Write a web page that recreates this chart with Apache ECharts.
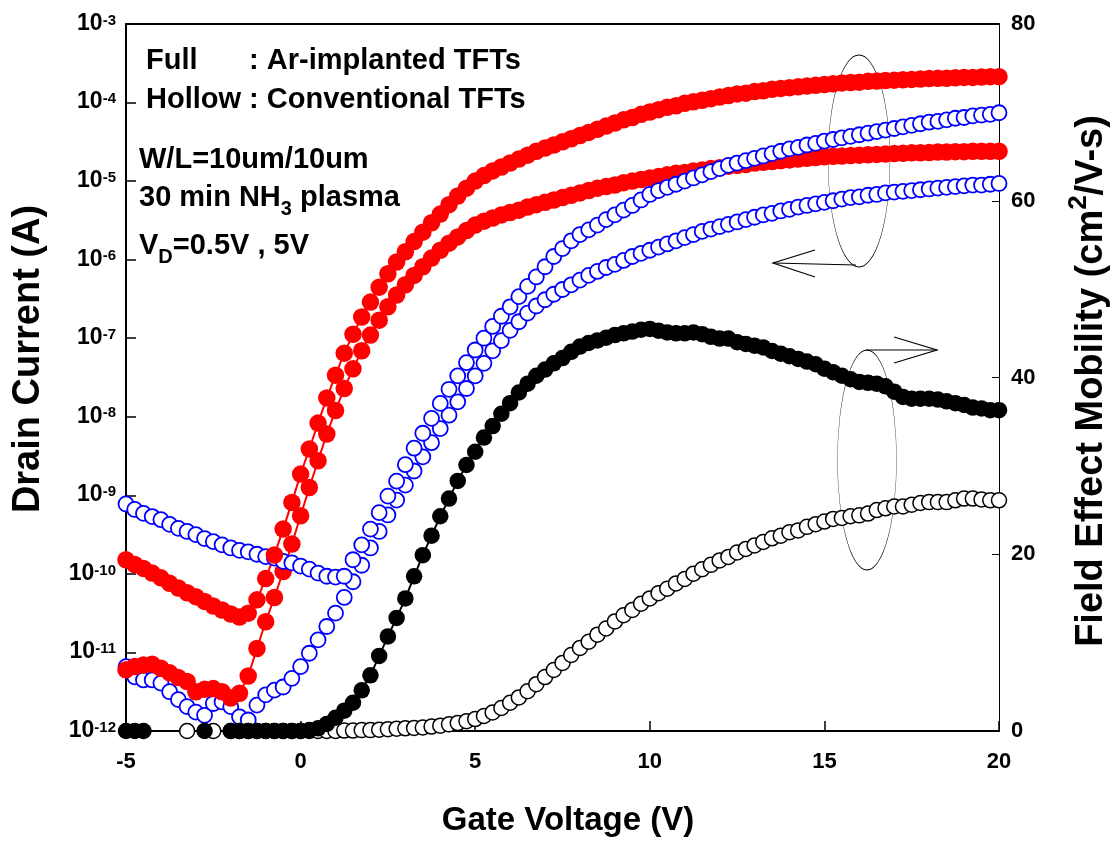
<!DOCTYPE html>
<html><head><meta charset="utf-8">
<script src="https://cdn.jsdelivr.net/npm/echarts@6/dist/echarts.min.js"></script>
<style>html,body{margin:0;padding:0;background:#fff}#c{width:1119px;height:846px}</style>
</head><body><div id="c"></div>
<script>
// Gate voltage sweep (V)
const gateVoltage = [
 -5,-4.75,-4.5,-4.25, -4,-3.75,-3.5,-3.25, -3,-2.75,-2.5,-2.25, -2,-1.75,-1.5,-1.25,
 -1,-0.75,-0.5,-0.25, 0,0.25,0.5,0.75, 1,1.25,1.5,1.75, 2,2.25,2.5,2.75,
 3,3.25,3.5,3.75, 4,4.25,4.5,4.75, 5,5.25,5.5,5.75, 6,6.25,6.5,6.75,
 7,7.25,7.5,7.75, 8,8.25,8.5,8.75, 9,9.25,9.5,9.75, 10,10.25,10.5,10.75,
 11,11.25,11.5,11.75, 12,12.25,12.5,12.75, 13,13.25,13.5,13.75, 14,14.25,14.5,14.75,
 15,15.25,15.5,15.75, 16,16.25,16.5,16.75, 17,17.25,17.5,17.75, 18,18.25,18.5,18.75,
 19,19.25,19.5,19.75, 20
];
// Drain current, read as decade exponents (log10 of A) off the left log axis
const idArVd5Exp = [
 -9.82,-9.88,-9.93,-9.99, -10.05,-10.12,-10.18,-10.24, -10.29,-10.35,-10.41,-10.46, -10.51,-10.55,-10.50,-10.33,
 -10.06,-9.76,-9.43,-9.09, -8.73,-8.41,-8.08,-7.76, -7.47,-7.19,-6.95,-6.73, -6.54,-6.35,-6.18,-6.03,
 -5.90,-5.77,-5.65,-5.53, -5.42,-5.30,-5.19,-5.09, -5.00,-4.93,-4.87,-4.82, -4.77,-4.72,-4.67,-4.62,
 -4.58,-4.54,-4.50,-4.46, -4.42,-4.38,-4.34,-4.30, -4.26,-4.22,-4.19,-4.15, -4.12,-4.09,-4.06,-4.04,
 -4.01,-3.99,-3.97,-3.95, -3.93,-3.91,-3.89,-3.88, -3.86,-3.85,-3.83,-3.82, -3.81,-3.80,-3.79,-3.78,
 -3.77,-3.76,-3.75,-3.745, -3.74,-3.73,-3.725,-3.72, -3.715,-3.71,-3.705,-3.70, -3.695,-3.69,-3.69,-3.685,
 -3.68,-3.68,-3.675,-3.67, -3.67
];
const idArVd05Exp = [
 -11.22,-11.18,-11.16,-11.15, -11.20,-11.26,-11.32,-11.37, -11.50,-11.47,-11.46,-11.50, -11.58,-11.52,-11.30,-10.95,
 -10.61,-10.30,-9.97,-9.62, -9.26,-8.90,-8.56,-8.22, -7.92,-7.64,-7.39,-7.16, -6.96,-6.77,-6.60,-6.45,
 -6.32,-6.20,-6.09,-5.98, -5.88,-5.79,-5.71,-5.63, -5.56,-5.51,-5.47,-5.43, -5.40,-5.37,-5.33,-5.30,
 -5.27,-5.24,-5.21,-5.18, -5.15,-5.12,-5.09,-5.07, -5.05,-5.02,-5.00,-4.98, -4.96,-4.94,-4.92,-4.90,
 -4.89,-4.87,-4.86,-4.84, -4.83,-4.81,-4.80,-4.79, -4.77,-4.76,-4.75,-4.74, -4.73,-4.72,-4.71,-4.70,
 -4.69,-4.685,-4.68,-4.675, -4.67,-4.665,-4.66,-4.655, -4.65,-4.645,-4.64,-4.64, -4.635,-4.63,-4.63,-4.625,
 -4.625,-4.62,-4.62,-4.62, -4.62
];
const idConvVd5Exp = [
 -9.11,-9.18,-9.23,-9.27, -9.31,-9.37,-9.42,-9.46, -9.50,-9.55,-9.59,-9.63, -9.67,-9.70,-9.72,-9.75,
 -9.78,-9.80,-9.84,-9.86, -9.90,-9.94,-9.99,-10.03, -10.04,-10.03,-9.82,-9.63, -9.43,-9.22,-9.01,-8.82,
 -8.61,-8.40,-8.21,-8.02, -7.83,-7.65,-7.48,-7.31, -7.15,-7.00,-6.85,-6.72, -6.60,-6.47,-6.34,-6.22,
 -6.09,-5.96,-5.86,-5.76, -5.68,-5.62,-5.56,-5.49, -5.43,-5.37,-5.31,-5.24, -5.17,-5.12,-5.08,-5.04,
 -5.00,-4.96,-4.92,-4.88, -4.84,-4.80,-4.77,-4.74, -4.71,-4.68,-4.65,-4.62, -4.59,-4.57,-4.54,-4.52,
 -4.49,-4.47,-4.45,-4.43, -4.41,-4.39,-4.37,-4.35, -4.33,-4.31,-4.29,-4.27, -4.25,-4.24,-4.22,-4.20,
 -4.19,-4.17,-4.16,-4.15, -4.13
];
const idConvVd05Exp = [
 -11.18,-11.31,-11.35,-11.35, -11.39,-11.50,-11.60,-11.69, -11.76,-11.80,-11.65,-11.63, -11.69,-11.82,-11.86,-11.67,
 -11.54,-11.48,-11.44,-11.33, -11.18,-11.01,-10.84,-10.67, -10.50,-10.30,-10.10,-9.89, -9.67,-9.46,-9.25,-9.06,
 -8.87,-8.69,-8.51,-8.33, -8.15,-7.98,-7.81,-7.64, -7.48,-7.32,-7.16,-7.03, -6.90,-6.79,-6.68,-6.59,
 -6.51,-6.44,-6.38,-6.32, -6.26,-6.20,-6.15,-6.10, -6.06,-6.01,-5.96,-5.92, -5.88,-5.84,-5.80,-5.76,
 -5.72,-5.68,-5.64,-5.61, -5.58,-5.55,-5.52,-5.49, -5.46,-5.43,-5.41,-5.38, -5.36,-5.33,-5.31,-5.29,
 -5.27,-5.25,-5.23,-5.21, -5.20,-5.18,-5.17,-5.15, -5.14,-5.13,-5.12,-5.11, -5.10,-5.09,-5.08,-5.07,
 -5.06,-5.05,-5.05,-5.04, -5.03
];
// Field effect mobility (cm2/V-s), right axis; null = no point plotted
const muAr = [
 0,0,0,null, null,null,null,null, null,0,null,null, 0,0,0,0,
 0,0,0,0, 0,0.1,0.3,0.8, 1.5,2.3,3.2,4.6, 6.3,8.5,10.7,12.8,
 15.0,17.5,19.9,22.1, 24.3,26.3,28.3,30.1, 31.6,33.2,34.5,35.9, 37.1,38.3,39.3,40.2,
 40.9,41.6,42.2,42.9, 43.5,43.9,44.2,44.5, 44.8,45.0,45.2,45.4, 45.5,45.3,45.1,45.0,
 45.0,45.1,44.9,44.6, 44.4,44.4,44.0,43.8, 43.6,43.4,43.0,42.7, 42.4,42.1,41.8,41.5,
 41.0,40.6,40.2,39.8, 39.5,39.4,39.3,39.0, 38.4,37.8,37.6,37.6, 37.6,37.5,37.3,37.1,
 36.9,36.6,36.5,36.3, 36.3
];
const muConv = [
 null,null,null,null, null,null,null,0, null,null,0,null, 0,0,0,0,
 0,0,0,0, 0,0,0,0, 0,0.05,0.05,0.1, 0.1,0.15,0.2,0.25,
 0.3,0.35,0.4,0.5, 0.6,0.75,0.9,1.1, 1.35,1.7,2.1,2.6, 3.2,3.8,4.5,5.3,
 6.1,6.9,7.7,8.6, 9.4,10.1,10.9,11.6, 12.4,13.1,13.7,14.4, 15.0,15.6,16.1,16.7,
 17.2,17.8,18.3,18.8, 19.3,19.7,20.2,20.6, 21.0,21.4,21.8,22.1, 22.5,22.7,23.1,23.4,
 23.7,24.0,24.1,24.3, 24.4,24.6,25.0,25.2, 25.4,25.4,25.6,25.8, 25.9,25.9,25.9,26.1,
 26.3,26.3,26.2,26.1, 26.1
];
const xTicks = { min: -5, max: 20, step: 5 };
const yLeftRange = { min: 1e-12, max: 1e-3 };
const yRightTicks = { min: 0, max: 80, step: 20 };

const FONT = '"Liberation Sans", Arial, Helvetica, sans-serif';
const grid = { left: 126, right: 120, top: 24, bottom: 115 };
const W = 1119, H = 846;

function fromExp(arr) { return gateVoltage.map((v, i) => [v, arr[i] === null ? '-' : Math.pow(10, arr[i])]); }
function plain(arr) { return gateVoltage.map((v, i) => [v, arr[i] === null ? '-' : arr[i]]); }

const cv = document.createElement('canvas').getContext('2d');
function tw(text, size) { cv.font = 'bold ' + size + 'px ' + FONT; return cv.measureText(text).width; }
function txt(x, y, text, size, align) {
  return { type: 'text', x: x, y: y, silent: true,
    style: { text: text, font: 'bold ' + size + 'px ' + FONT, fill: '#000', align: align || 'left', verticalAlign: 'middle' } };
}
// run of text pieces: [text, size, dy]
function run(x, y, parts) {
  const out = []; let cx = x;
  parts.forEach(p => { out.push(txt(cx, y + (p[2] || 0), p[0], p[1])); cx += tw(p[0], p[1]); });
  return out;
}

const graphics = [];
// annotation block
graphics.push(...run(146, 61, [['Full', 29]]));
graphics.push(...run(146 + tw('Hollow ', 29), 61, [[': Ar-implanted TFTs', 29]]));
graphics.push(...run(146, 100, [['Hollow : Conventional TFTs', 29]]));
graphics.push(...run(139, 160, [['W/L=10um/10um', 29]]));
graphics.push(...run(139, 198, [['30 min NH', 29], ['3', 20, 11], [' plasma', 29]]));
graphics.push(...run(139, 246, [['V', 29], ['D', 20, 11], ['=0.5V , 5V', 29]]));
// axis titles
graphics.push(txt(568, 821, 'Gate Voltage (V)', 33, 'center'));
graphics.push({ type: 'group', x: 29, y: 359, rotation: Math.PI / 2, children: [
  txt(0, 0, 'Drain Current (A)', 38, 'center')
]});
(function () {
  const p1 = 'Field Effect Mobility (cm', p2 = '2', p3 = '/V-s)';
  const w1 = tw(p1, 38), w2 = tw(p2, 26), w3 = tw(p3, 38);
  const s = -(w1 + w2 + w3) / 2;
  graphics.push({ type: 'group', x: 1092, y: 381, rotation: Math.PI / 2, children: [
    txt(s, 0, p1, 38), txt(s + w1, -13, p2, 26), txt(s + w1 + w2, 0, p3, 38)
  ]});
})();
// ellipses with arrows
function ellipse(cx, cy, rx, ry) {
  return { type: 'circle', x: cx, y: cy, scaleX: rx / ry, scaleY: 1, silent: true,
    shape: { cx: 0, cy: 0, r: ry }, style: { fill: null, stroke: '#000', lineWidth: 1.2, strokeNoScale: true } };
}
function pl(points) {
  return { type: 'polyline', silent: true, shape: { points: points }, style: { fill: null, stroke: '#000', lineWidth: 1.2 } };
}
graphics.push(ellipse(859, 161, 31, 106));
graphics.push(pl([[856, 265], [773, 263]]));
graphics.push(pl([[815, 250], [773, 263], [815, 277]]));
graphics.push(ellipse(867, 460, 29.5, 110));
graphics.push(pl([[866, 350], [937, 350]]));
graphics.push(pl([[894, 337], [937, 350], [894, 363]]));

const labelStyle = { color: '#000', fontWeight: 'bold', fontSize: 22, fontFamily: FONT };

function series(name, data, yIdx, opts) {
  return Object.assign({
    name: name, type: 'line', xAxisIndex: 0, yAxisIndex: yIdx, data: data,
    symbol: 'circle', showAllSymbol: true, animation: false, connectNulls: false,
    emphasis: { disabled: true }, z: 3
  }, opts);
}

const option = {
  backgroundColor: '#fff',
  animation: false,
  grid: { left: grid.left, right: grid.right, top: grid.top, bottom: grid.bottom, containLabel: false },
  xAxis: [
    { type: 'value', min: xTicks.min, max: xTicks.max, interval: xTicks.step, position: 'bottom',
      axisLine: { show: true, onZero: false, lineStyle: { color: '#000', width: 2 } },
      axisTick: { show: true, inside: true, length: 10, lineStyle: { color: '#000', width: 1.5 } },
      axisLabel: Object.assign({ margin: 20 }, labelStyle),
      splitLine: { show: false } },
    { type: 'value', min: xTicks.min, max: xTicks.max, interval: xTicks.step, position: 'top',
      axisLine: { show: true, onZero: false, lineStyle: { color: '#000', width: 2 } },
      axisTick: { show: false }, axisLabel: { show: false }, splitLine: { show: false } }
  ],
  yAxis: [
    { type: 'log', logBase: 10, min: yLeftRange.min, max: yLeftRange.max, splitNumber: 9, position: 'left',
      axisLine: { show: true, onZero: false, lineStyle: { color: '#000', width: 2 } },
      axisTick: { show: true, inside: true, length: 10, lineStyle: { color: '#000', width: 1.5 } },
      minorTick: { show: false }, splitLine: { show: false },
      axisLabel: { margin: 10, color: '#000',
        formatter: function (v) { return '{b|10}{s|' + Math.round(Math.log10(v)) + '}'; },
        rich: {
          b: { fontSize: 23, fontWeight: 'bold', fontFamily: FONT, color: '#000', lineHeight: 22, verticalAlign: 'bottom' },
          s: { fontSize: 15, fontWeight: 'bold', fontFamily: FONT, color: '#000', lineHeight: 14, verticalAlign: 'top' }
        } } },
    { type: 'value', min: yRightTicks.min, max: yRightTicks.max, interval: yRightTicks.step, position: 'right',
      axisLine: { show: true, onZero: false, lineStyle: { color: '#000', width: 1 } },
      axisTick: { show: true, inside: true, length: 7, lineStyle: { color: '#000', width: 1 } },
      splitLine: { show: false },
      axisLabel: Object.assign({ margin: 12 }, labelStyle) }
  ],
  series: [
    series('Conventional, VD=0.5V (Id)', fromExp(idConvVd05Exp), 0, {
      symbolSize: 15, itemStyle: { color: '#fff', borderColor: '#0000ff', borderWidth: 1.8 },
      lineStyle: { width: 0, opacity: 0 } }),
    series('Ar-implanted, VD=0.5V (Id)', fromExp(idArVd05Exp), 0, {
      symbolSize: 17.5, itemStyle: { color: '#ff0000', borderWidth: 0 },
      lineStyle: { color: '#ff0000', width: 2 } }),
    series('Conventional, VD=5V (Id)', fromExp(idConvVd5Exp), 0, {
      symbolSize: 15, itemStyle: { color: '#fff', borderColor: '#0000ff', borderWidth: 1.8 },
      lineStyle: { width: 0, opacity: 0 } }),
    series('Ar-implanted, VD=5V (Id)', fromExp(idArVd5Exp), 0, {
      symbolSize: 17.5, itemStyle: { color: '#ff0000', borderWidth: 0 },
      lineStyle: { color: '#ff0000', width: 2 } }),
    series('Conventional (mobility)', plain(muConv), 1, {
      symbolSize: 15, itemStyle: { color: '#fff', borderColor: '#000', borderWidth: 1.5 },
      lineStyle: { width: 0, opacity: 0 } }),
    series('Ar-implanted (mobility)', plain(muAr), 1, {
      symbolSize: 16.5, itemStyle: { color: '#000', borderWidth: 0 },
      lineStyle: { color: '#000', width: 2 } })
  ],
  graphic: { elements: graphics }
};

const chart = echarts.init(document.getElementById('c'), null, { renderer: 'canvas', width: W, height: H });
chart.setOption(option);
</script>
</body></html>
